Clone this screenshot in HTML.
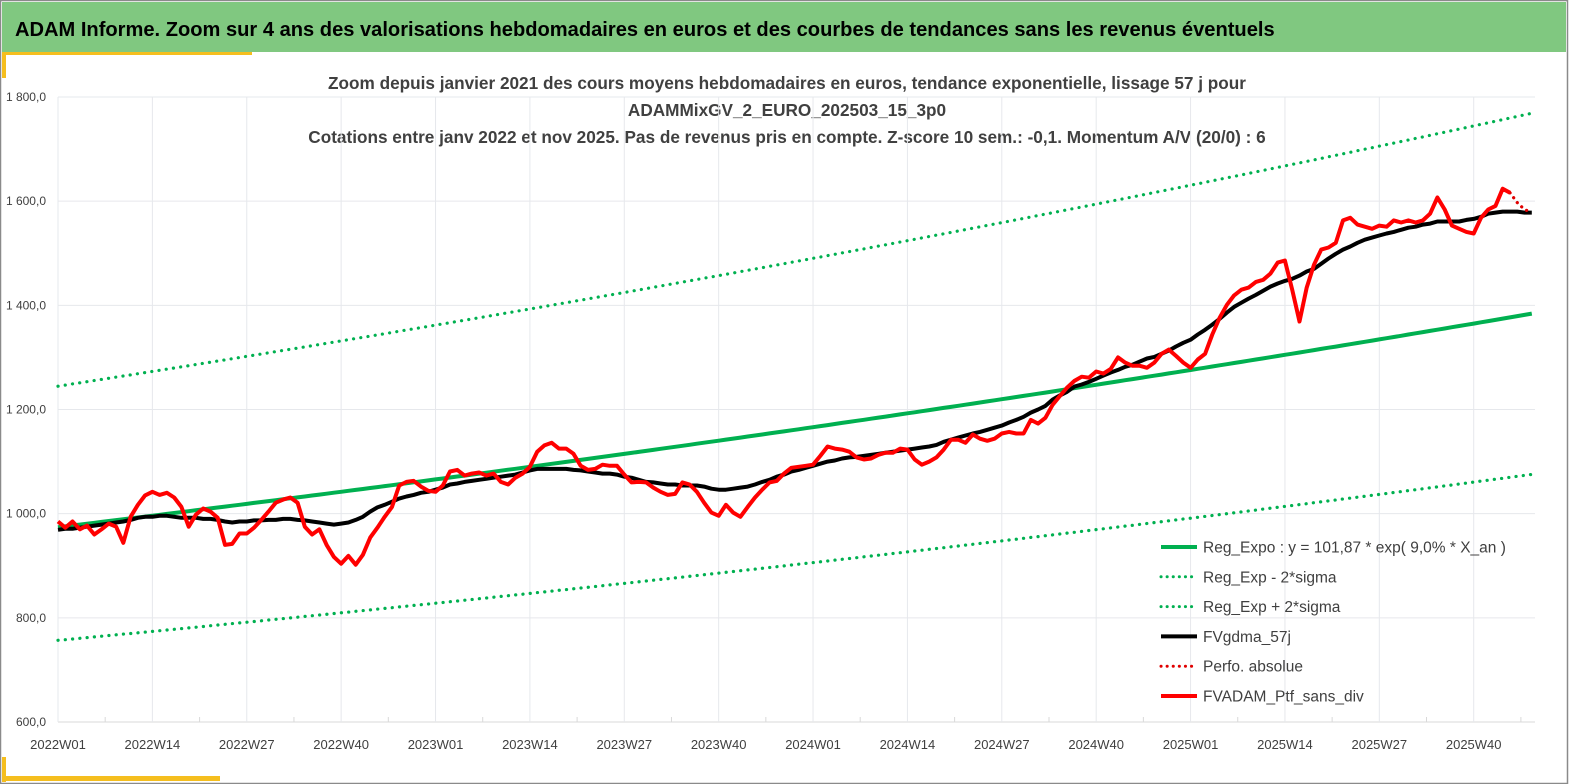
<!DOCTYPE html>
<html><head><meta charset="utf-8">
<style>
html,body{margin:0;padding:0;background:#fff;}
#wrap{position:relative;width:1569px;height:784px;overflow:hidden;font-family:"Liberation Sans",sans-serif;}
svg text{font-family:"Liberation Sans",sans-serif;}
</style></head>
<body>
<div id="wrap">
<svg id="chart" width="1569" height="784" viewBox="0 0 1569 784" xmlns="http://www.w3.org/2000/svg">
  <rect x="0" y="0" width="1569" height="784" fill="#fff"/>
  <rect x="0.5" y="0.5" width="1567" height="783" fill="none" stroke="#8a8a8a" stroke-width="1.5"/>
  <rect x="2" y="2" width="1564" height="50" fill="#80C880"/>
  <text x="15" y="36" font-size="20.1" font-weight="bold" fill="#000">ADAM Informe. Zoom sur 4 ans des valorisations hebdomadaires en euros et des courbes de tendances sans les revenus éventuels</text>
  <rect x="2" y="52" width="250" height="3" fill="#F5BE1E"/>
  <rect x="2" y="52" width="4" height="26" fill="#F5BE1E"/>
  <rect x="2" y="757" width="4" height="25" fill="#F5BE1E"/>
  <rect x="2" y="776" width="218" height="5" fill="#F5BE1E"/>
  <g font-weight="bold" font-size="17.2" fill="#404040" text-anchor="middle">
    <text x="787" y="89">Zoom depuis janvier 2021 des cours moyens hebdomadaires  en euros, tendance exponentielle, lissage 57 j pour</text>
    <text x="787" y="116">ADAMMixGV_2_EURO_202503_15_3p0</text>
    <text x="787" y="143">Cotations  entre janv 2022 et nov 2025. Pas de revenus pris en compte. Z-score 10 sem.: -0,1. Momentum A/V (20/0) : 6</text>
  </g>
  <g id="grid"></g>
  <g id="yaxis"></g>
  <g id="xaxis"></g>
  <g id="series"></g>
  <g id="legend"></g>
</svg>
</div>
<script>
const yTicks = [600, 800, 1000, 1200, 1400, 1600, 1800];
const yTickLabels = ["600,0", "800,0", "1 000,0", "1 200,0", "1 400,0", "1 600,0", "1 800,0"];
const xTickLabels = ["2022W01","2022W14","2022W27","2022W40","2023W01","2023W14","2023W27","2023W40","2024W01","2024W14","2024W27","2024W40","2025W01","2025W14","2025W27","2025W40"];
const weeksCount = 204;
// Reg_Expo parameters: start value, annual rate
const trendStart = 974;
const trendRate = 0.09;
const bandLowFactor = 0.777;
const bandHighFactor = 1.278;
const ptfValues = [985,973,985,970,977,960,970,981,975,944,994,1017,1035,1042,1036,1040,1031,1013,975,998,1010,1004,992,940,942,962,962,973,988,1004,1021,1027,1031,1021,975,960,970,940,917,904,919,902,921,954,973,994,1013,1054,1061,1063,1052,1044,1042,1054,1081,1084,1073,1077,1079,1073,1077,1061,1056,1069,1077,1090,1119,1131,1136,1125,1125,1115,1092,1084,1086,1094,1092,1092,1075,1060,1061,1060,1050,1042,1036,1038,1060,1056,1042,1021,1002,996,1017,1002,994,1013,1031,1046,1060,1063,1077,1088,1090,1092,1094,1111,1129,1125,1123,1119,1108,1104,1106,1113,1117,1117,1125,1123,1104,1094,1100,1108,1123,1142,1142,1136,1152,1144,1140,1144,1154,1157,1154,1154,1180,1173,1184,1209,1226,1242,1255,1263,1261,1273,1269,1278,1300,1290,1284,1284,1280,1290,1307,1315,1303,1290,1280,1296,1307,1344,1376,1401,1419,1430,1434,1445,1449,1461,1482,1486,1430,1369,1434,1478,1507,1511,1520,1563,1568,1555,1551,1547,1553,1551,1563,1559,1563,1559,1563,1576,1607,1584,1553,1547,1541,1538,1568,1584,1591,1624,1616];
const perfoStartIndex = 200;
const perfoValues = [1616,1597,1584,1578];
const gdmaValues = [969,971,971,973,975,977,979,981,983,985,988,992,994,994,996,996,994,992,992,992,990,990,988,985,983,985,985,987,987,988,988,990,990,988,987,985,983,981,979,981,983,988,994,1004,1012,1017,1023,1029,1033,1036,1040,1042,1046,1050,1056,1058,1061,1063,1065,1067,1069,1071,1073,1075,1079,1083,1086,1086,1086,1086,1086,1084,1083,1081,1079,1077,1077,1075,1071,1069,1065,1061,1060,1058,1056,1056,1054,1054,1054,1052,1048,1046,1046,1048,1050,1052,1056,1061,1065,1071,1075,1081,1084,1088,1092,1096,1100,1102,1106,1108,1109,1111,1113,1115,1117,1119,1121,1123,1125,1127,1129,1132,1138,1142,1146,1150,1154,1157,1161,1165,1169,1175,1180,1186,1194,1200,1207,1219,1227,1234,1244,1248,1253,1259,1265,1271,1276,1282,1286,1292,1298,1301,1307,1313,1321,1328,1334,1344,1353,1363,1374,1386,1397,1405,1413,1420,1428,1436,1442,1447,1451,1457,1465,1470,1480,1490,1499,1507,1513,1520,1526,1530,1534,1538,1541,1545,1549,1551,1555,1557,1561,1561,1561,1561,1564,1566,1570,1576,1578,1580,1580,1580,1578,1578];

const NS = "http://www.w3.org/2000/svg";
const X0 = 58, XSTEP = 7.26, Y600 = 722, Y1800 = 97, PLOT_R = 1535;
function xScale(i){ return X0 + i*XSTEP; }
function yScale(v){ return Y600 - (v-600)*(Y600-Y1800)/1200; }
function mk(tag, attrs, parent){ const e=document.createElementNS(NS,tag); for(const k in attrs) e.setAttribute(k,attrs[k]); parent.appendChild(e); return e; }

const grid=document.getElementById('grid'), ya=document.getElementById('yaxis'), xa=document.getElementById('xaxis'), ser=document.getElementById('series'), leg=document.getElementById('legend');

yTicks.forEach((t,k)=>{
  const gl=mk('line',{x1:X0,x2:PLOT_R,y1:yScale(t),y2:yScale(t),stroke:t===600?'#d9d9d9':'#e6e8ec','stroke-width':1},grid);
  
  
  const tx=mk('text',{x:46,y:yScale(t)+4,'font-size':12,'text-anchor':'end',fill:'#404040'},ya);
  tx.textContent=yTickLabels[k];
  
  
});
xTickLabels.forEach((lab,k)=>{
  const x=xScale(k*13);
  const gl=mk('line',{x1:x,x2:x,y1:Y1800,y2:Y600,stroke:'#e6e8ec','stroke-width':1},grid);
  
  
  const tk=mk('line',{x1:x+XSTEP*6.5,x2:x+XSTEP*6.5,y1:Y600,y2:Y600-5,stroke:'#d9d9d9'},grid);
  
  
  const tx=mk('text',{x:x,y:749,'font-size':13,'text-anchor':'middle',fill:'#404040'},xa);
  tx.textContent=lab;
  
  
});

function pathFrom(vals, offset){ return vals.map((v,i)=>(i?'L':'M')+xScale(i+offset).toFixed(1)+','+yScale(v).toFixed(1)).join(''); }
const trend=[], lo=[], hi=[];
for(let i=0;i<weeksCount;i++){ const v=trendStart*Math.exp(trendRate*i/52); trend.push(v); lo.push(v*bandLowFactor); hi.push(v*bandHighFactor); }

const pLo=mk('path',{d:pathFrom(lo,0),fill:'none',stroke:'#00B050','stroke-width':3.2,'stroke-dasharray':'0.1 7.2','stroke-linecap':'round'},ser);


const pHi=mk('path',{d:pathFrom(hi,0),fill:'none',stroke:'#00B050','stroke-width':3.2,'stroke-dasharray':'0.1 7.2','stroke-linecap':'round'},ser);


const pTr=mk('path',{d:pathFrom(trend,0),fill:'none',stroke:'#00B050','stroke-width':4},ser);


const pG=mk('path',{d:pathFrom(gdmaValues,0),fill:'none',stroke:'#000','stroke-width':4,'stroke-linejoin':'round'},ser);


const pP=mk('path',{d:pathFrom(perfoValues,perfoStartIndex),fill:'none',stroke:'#E00000','stroke-width':3.2,'stroke-dasharray':'0.1 6','stroke-linecap':'round'},ser);


const pR=mk('path',{d:pathFrom(ptfValues,0),fill:'none',stroke:'#FF0000','stroke-width':4,'stroke-linejoin':'round'},ser);



const legItems=[
 ['Reg_Expo : y = 101,87 * exp( 9,0% *  X_an )','#00B050',false],
 ['Reg_Exp - 2*sigma','#00B050',true],
 ['Reg_Exp + 2*sigma','#00B050',true],
 ['FVgdma_57j','#000',false],
 ['Perfo. absolue','#E00000',true],
 ['FVADAM_Ptf_sans_div','#FF0000',false]];
legItems.forEach((it,k)=>{
  const y=547+k*29.8;
  const g=mk('g',{},leg);
  
  
  const a=it[2]?{stroke:it[1],'stroke-width':3,'stroke-dasharray':'0.1 6','stroke-linecap':'round'}:{stroke:it[1],'stroke-width':4};
  a.x1=1161;a.x2=1197;a.y1=y;a.y2=y;
  const ln=mk('line',a,g);
  
  
  const t=mk('text',{x:1203,y:y+5.5,'font-size':15.5,fill:'#404040'},g);
  t.textContent=it[0];
  
  
});
</script>
</body></html>
